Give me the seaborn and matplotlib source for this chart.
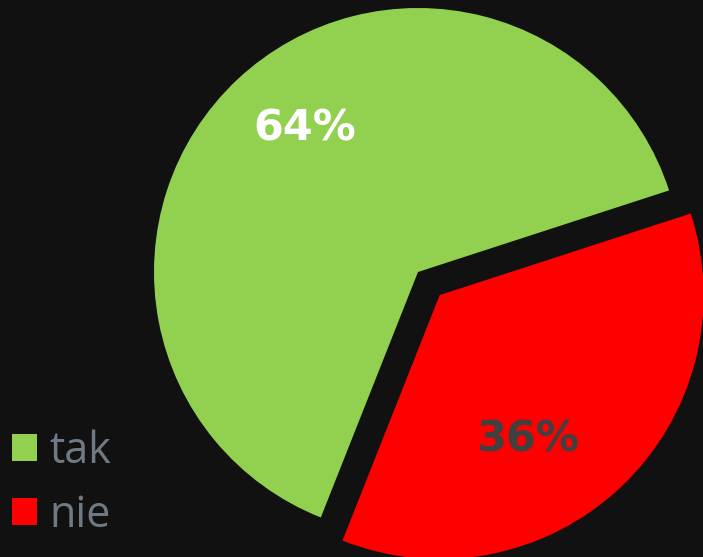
import matplotlib
matplotlib.use("Agg")
import matplotlib.pyplot as plt
import seaborn as sns

labels = ["tak", "nie"]
values = [64, 36]
colors = ["#92d050", "#ff0000"]
pct_colors = ["#ffffff", "#404040"]
explode = [0, 0.12]

sns.set_theme(style="dark", rc={"figure.facecolor": "#111111", "axes.facecolor": "#111111"})
plt.rcParams["font.family"] = ["Open Sans", "DejaVu Sans"]

fig = plt.figure(figsize=(7.03, 5.57), dpi=100)
ax = fig.add_axes([0, 0, 1, 1])
ax.set_facecolor("#111111")

wedges, texts, autotexts = ax.pie(
    values,
    colors=colors,
    explode=explode,
    startangle=18,
    counterclock=True,
    autopct="%d%%",
    pctdistance=0.68,
    wedgeprops={"linewidth": 0},
    textprops={"fontsize": 31, "fontweight": "bold", "family": "DejaVu Sans"},
)

# label spots (radius units)
pct_pos = [(-0.43, 0.545), (0.415, -0.635)]
for t, c, p in zip(autotexts, pct_colors, pct_pos):
    t.set_color(c)
    t.set_position(p)

# pie radius ~264 px, centre at (418, 272) from top-left
r = 264
ax.set_xlim(-418 / r, (703 - 418) / r)
ax.set_ylim(-(557 - 272) / r, 272 / r)
ax.set_aspect("equal")
ax.axis("off")

leg = ax.legend(
    wedges, labels,
    loc="lower left",
    bbox_to_anchor=(-0.008, 0.004),
    bbox_transform=fig.transFigure,
    frameon=False,
    fontsize=31,
    handlelength=0.58,
    handleheight=0.58,
    handletextpad=0.3,
    labelspacing=0.45,
    borderaxespad=0,
)
for txt in leg.get_texts():
    txt.set_color("#6f7a85")

fig.savefig("out.png", dpi=100, facecolor=fig.get_facecolor())
plt.close()
